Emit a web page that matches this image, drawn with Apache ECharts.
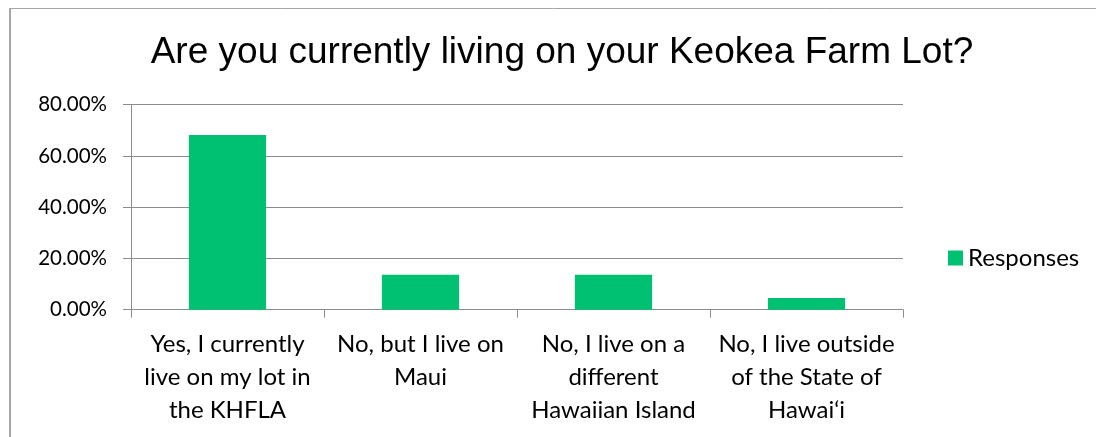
<!DOCTYPE html>
<html>
<head>
<meta charset="utf-8">
<script src="https://cdn.jsdelivr.net/npm/echarts@6/dist/echarts.min.js"></script>
<style>
html,body{margin:0;padding:0;background:#fff;}
#chart{width:1096px;height:437px;}
</style>
</head>
<body>
<div id="chart"></div>
<script>
const titleText = 'Are you currently living on your Keokea Farm Lot?';
const categories = [
  'Yes, I currently\nlive on my lot in\nthe KHFLA',
  'No, but I live on\nMaui',
  'No, I live on a\ndifferent\nHawaiian Island',
  'No, I live outside\nof the State of\nHawai\u2018i'
];
const seriesName = 'Responses';
const responses = [68.18, 13.64, 13.64, 4.55];
const yTicks = [0, 20, 40, 60, 80];

const chart = echarts.init(document.getElementById('chart'), null, {renderer: 'canvas'});
const gridColor = '#8c8c8c';
const labelFont = 'Lato, "Open Sans", sans-serif';
chart.setOption({
  animation: false,
  backgroundColor: '#ffffff',
  graphic: [{
    type: 'rect',
    shape: {x: 10, y: 8.5, width: 1200, height: 600},
    style: {fill: 'none', stroke: '#a6a6a6', lineWidth: 1}
  }, {
    type: 'rect',
    shape: {x: 9, y: 8, width: 2, height: 600},
    style: {fill: '#a6a6a6'}
  }],
  title: {
    text: titleText,
    left: 557,
    textAlign: 'center',
    top: 29,
    textStyle: {
      fontFamily: '"Liberation Sans", Arial, sans-serif',
      fontSize: 37,
      fontWeight: 'normal',
      color: '#000'
    }
  },
  legend: {
    data: [seriesName],
    left: 943,
    top: 241,
    itemWidth: 15,
    itemHeight: 15,
    icon: 'rect',
    textStyle: {fontFamily: labelFont, fontSize: 24, color: '#000'}
  },
  grid: {left: 131, right: 193, top: 104.7, bottom: 127.3, containLabel: false},
  xAxis: {
    type: 'category',
    data: categories,
    axisLine: {show: true, lineStyle: {color: gridColor, width: 1}},
    axisTick: {show: true, length: 8, alignWithLabel: false, lineStyle: {color: gridColor}},
    axisLabel: {
      interval: 0,
      margin: 18,
      fontFamily: labelFont,
      fontSize: 24,
      lineHeight: 33,
      color: '#000',
      align: 'center'
    }
  },
  yAxis: {
    type: 'value',
    min: 0,
    max: 80,
    interval: 20,
    axisLine: {show: true, lineStyle: {color: gridColor, width: 1}},
    axisTick: {show: true, length: 8, lineStyle: {color: gridColor}},
    splitLine: {show: true, lineStyle: {color: gridColor, width: 1}},
    axisLabel: {
      margin: 24,
      fontFamily: labelFont,
      fontSize: 20.5,
      color: '#000',
      formatter: v => yTicks.includes(v) ? v.toFixed(2) + '%' : ''
    }
  },
  series: [{
    name: seriesName,
    type: 'bar',
    data: responses,
    barWidth: '40%',
    itemStyle: {color: '#00c071'}
  }]
});
</script>
</body>
</html>
